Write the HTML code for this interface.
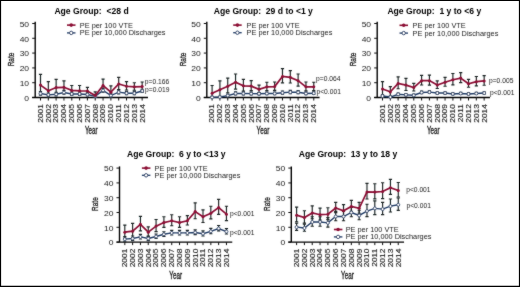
<!DOCTYPE html>
<html><head><meta charset="utf-8"><style>
html,body{margin:0;padding:0;background:#fff;}
body{width:520px;height:287px;overflow:hidden;}
svg{display:block;will-change:transform;}
text{font-family:"Liberation Sans",sans-serif;white-space:pre;}
</style></head><body>
<svg width="520" height="287" viewBox="0 0 520 287">
<defs><filter id="bl" x="-2%" y="-2%" width="104%" height="104%"><feConvolveMatrix order="3" kernelMatrix="0.0225 0.0525 0.0225 0.0525 0.7000 0.0525 0.0225 0.0525 0.0225" edgeMode="duplicate" preserveAlpha="false"/></filter></defs>
<rect x="0" y="0" width="520" height="287" fill="#fff"/>
<g filter="url(#bl)">
<g>
<text x="54.40" y="13.80" font-size="8.6" font-weight="bold" fill="#000">Age Group:  &lt;28 d</text>
<path d="M35.20 21.80V97.50" stroke="#000" stroke-width="1.4" fill="none"/>
<path d="M32.20 97.50H35.20" stroke="#111" stroke-width="1" fill="none"/>
<text transform="translate(29.10,100.70) scale(1.15,1)" font-size="7.4" text-anchor="end" fill="#1a1a1a">0</text>
<path d="M32.20 82.70H35.20" stroke="#111" stroke-width="1" fill="none"/>
<text transform="translate(29.10,85.90) scale(1.15,1)" font-size="7.4" text-anchor="end" fill="#1a1a1a">10</text>
<path d="M32.20 67.90H35.20" stroke="#111" stroke-width="1" fill="none"/>
<text transform="translate(29.10,71.10) scale(1.15,1)" font-size="7.4" text-anchor="end" fill="#1a1a1a">20</text>
<path d="M32.20 53.10H35.20" stroke="#111" stroke-width="1" fill="none"/>
<text transform="translate(29.10,56.30) scale(1.15,1)" font-size="7.4" text-anchor="end" fill="#1a1a1a">30</text>
<path d="M32.20 38.30H35.20" stroke="#111" stroke-width="1" fill="none"/>
<text transform="translate(29.10,41.50) scale(1.15,1)" font-size="7.4" text-anchor="end" fill="#1a1a1a">40</text>
<path d="M32.20 23.50H35.20" stroke="#111" stroke-width="1" fill="none"/>
<text transform="translate(29.10,26.70) scale(1.15,1)" font-size="7.4" text-anchor="end" fill="#1a1a1a">50</text>
<path d="M32.20 97.50H147.96" stroke="#000" stroke-width="1.4" fill="none"/>
<path d="M40.50 97.50V100.50" stroke="#111" stroke-width="1" fill="none"/>
<text transform="translate(42.85,104.10) rotate(-90) scale(1.235,1)" font-size="6.8" text-anchor="end" fill="#1a1a1a" stroke="#1a1a1a" stroke-width="0.12">2001</text>
<path d="M48.32 97.50V100.50" stroke="#111" stroke-width="1" fill="none"/>
<text transform="translate(50.67,104.10) rotate(-90) scale(1.235,1)" font-size="6.8" text-anchor="end" fill="#1a1a1a" stroke="#1a1a1a" stroke-width="0.12">2002</text>
<path d="M56.14 97.50V100.50" stroke="#111" stroke-width="1" fill="none"/>
<text transform="translate(58.49,104.10) rotate(-90) scale(1.235,1)" font-size="6.8" text-anchor="end" fill="#1a1a1a" stroke="#1a1a1a" stroke-width="0.12">2003</text>
<path d="M63.96 97.50V100.50" stroke="#111" stroke-width="1" fill="none"/>
<text transform="translate(66.31,104.10) rotate(-90) scale(1.235,1)" font-size="6.8" text-anchor="end" fill="#1a1a1a" stroke="#1a1a1a" stroke-width="0.12">2004</text>
<path d="M71.78 97.50V100.50" stroke="#111" stroke-width="1" fill="none"/>
<text transform="translate(74.13,104.10) rotate(-90) scale(1.235,1)" font-size="6.8" text-anchor="end" fill="#1a1a1a" stroke="#1a1a1a" stroke-width="0.12">2005</text>
<path d="M79.60 97.50V100.50" stroke="#111" stroke-width="1" fill="none"/>
<text transform="translate(81.95,104.10) rotate(-90) scale(1.235,1)" font-size="6.8" text-anchor="end" fill="#1a1a1a" stroke="#1a1a1a" stroke-width="0.12">2006</text>
<path d="M87.42 97.50V100.50" stroke="#111" stroke-width="1" fill="none"/>
<text transform="translate(89.77,104.10) rotate(-90) scale(1.235,1)" font-size="6.8" text-anchor="end" fill="#1a1a1a" stroke="#1a1a1a" stroke-width="0.12">2007</text>
<path d="M95.24 97.50V100.50" stroke="#111" stroke-width="1" fill="none"/>
<text transform="translate(97.59,104.10) rotate(-90) scale(1.235,1)" font-size="6.8" text-anchor="end" fill="#1a1a1a" stroke="#1a1a1a" stroke-width="0.12">2008</text>
<path d="M103.06 97.50V100.50" stroke="#111" stroke-width="1" fill="none"/>
<text transform="translate(105.41,104.10) rotate(-90) scale(1.235,1)" font-size="6.8" text-anchor="end" fill="#1a1a1a" stroke="#1a1a1a" stroke-width="0.12">2009</text>
<path d="M110.88 97.50V100.50" stroke="#111" stroke-width="1" fill="none"/>
<text transform="translate(113.23,104.10) rotate(-90) scale(1.235,1)" font-size="6.8" text-anchor="end" fill="#1a1a1a" stroke="#1a1a1a" stroke-width="0.12">2010</text>
<path d="M118.70 97.50V100.50" stroke="#111" stroke-width="1" fill="none"/>
<text transform="translate(121.05,104.10) rotate(-90) scale(1.235,1)" font-size="6.8" text-anchor="end" fill="#1a1a1a" stroke="#1a1a1a" stroke-width="0.12">2011</text>
<path d="M126.52 97.50V100.50" stroke="#111" stroke-width="1" fill="none"/>
<text transform="translate(128.87,104.10) rotate(-90) scale(1.235,1)" font-size="6.8" text-anchor="end" fill="#1a1a1a" stroke="#1a1a1a" stroke-width="0.12">2012</text>
<path d="M134.34 97.50V100.50" stroke="#111" stroke-width="1" fill="none"/>
<text transform="translate(136.69,104.10) rotate(-90) scale(1.235,1)" font-size="6.8" text-anchor="end" fill="#1a1a1a" stroke="#1a1a1a" stroke-width="0.12">2013</text>
<path d="M142.16 97.50V100.50" stroke="#111" stroke-width="1" fill="none"/>
<text transform="translate(144.51,104.10) rotate(-90) scale(1.235,1)" font-size="6.8" text-anchor="end" fill="#1a1a1a" stroke="#1a1a1a" stroke-width="0.12">2014</text>
<text transform="translate(91.33,134.30) scale(0.7,1.16)" font-size="9" text-anchor="middle" fill="#1a1a1a" stroke="#1a1a1a" stroke-width="0.3">Year</text>
<text transform="translate(13.90,59.50) rotate(-90) scale(0.75,1)" font-size="8.6" text-anchor="middle" fill="#1a1a1a" stroke="#1a1a1a" stroke-width="0.3">Rate</text>
<path d="M40.50 91.58V95.08M38.90 91.58H42.10M38.90 95.08H42.10" stroke="#1c2626" stroke-width="1.15" fill="none"/>
<path d="M48.32 93.06V96.29M46.72 93.06H49.92M46.72 96.29H49.92" stroke="#1c2626" stroke-width="1.15" fill="none"/>
<path d="M56.14 92.32V95.82M54.54 92.32H57.74M54.54 95.82H57.74" stroke="#1c2626" stroke-width="1.15" fill="none"/>
<path d="M63.96 90.40V94.17M62.36 90.40H65.56M62.36 94.17H65.56" stroke="#1c2626" stroke-width="1.15" fill="none"/>
<path d="M71.78 92.17V95.40M70.18 92.17H73.38M70.18 95.40H73.38" stroke="#1c2626" stroke-width="1.15" fill="none"/>
<path d="M79.60 92.17V95.40M78.00 92.17H81.20M78.00 95.40H81.20" stroke="#1c2626" stroke-width="1.15" fill="none"/>
<path d="M87.42 92.76V96.00M85.82 92.76H89.02M85.82 96.00H89.02" stroke="#1c2626" stroke-width="1.15" fill="none"/>
<path d="M95.24 94.84V97.50M93.64 94.84H96.84M93.64 97.50H96.84" stroke="#1c2626" stroke-width="1.15" fill="none"/>
<path d="M103.06 88.32V92.10M101.46 88.32H104.66M101.46 92.10H104.66" stroke="#1c2626" stroke-width="1.15" fill="none"/>
<path d="M110.88 93.80V97.03M109.28 93.80H112.48M109.28 97.03H112.48" stroke="#1c2626" stroke-width="1.15" fill="none"/>
<path d="M118.70 90.10V93.87M117.10 90.10H120.30M117.10 93.87H120.30" stroke="#1c2626" stroke-width="1.15" fill="none"/>
<path d="M126.52 91.43V94.66M124.92 91.43H128.12M124.92 94.66H128.12" stroke="#1c2626" stroke-width="1.15" fill="none"/>
<path d="M134.34 91.43V94.66M132.74 91.43H135.94M132.74 94.66H135.94" stroke="#1c2626" stroke-width="1.15" fill="none"/>
<path d="M142.16 89.21V92.44M140.56 89.21H143.76M140.56 92.44H143.76" stroke="#1c2626" stroke-width="1.15" fill="none"/>
<path d="M40.50 74.41V93.81M38.90 74.41H42.10M38.90 93.81H42.10" stroke="#1c2626" stroke-width="1.15" fill="none"/>
<path d="M48.32 81.66V97.50M46.72 81.66H49.92M46.72 97.50H49.92" stroke="#1c2626" stroke-width="1.15" fill="none"/>
<path d="M56.14 79.44V94.26M54.54 79.44H57.74M54.54 94.26H57.74" stroke="#1c2626" stroke-width="1.15" fill="none"/>
<path d="M63.96 80.92V92.51M62.36 80.92H65.56M62.36 92.51H65.56" stroke="#1c2626" stroke-width="1.15" fill="none"/>
<path d="M71.78 85.51V94.40M70.18 85.51H73.38M70.18 94.40H73.38" stroke="#1c2626" stroke-width="1.15" fill="none"/>
<path d="M79.60 85.51V95.21M78.00 85.51H81.20M78.00 95.21H81.20" stroke="#1c2626" stroke-width="1.15" fill="none"/>
<path d="M87.42 87.44V93.90M85.82 87.44H89.02M85.82 93.90H89.02" stroke="#1c2626" stroke-width="1.15" fill="none"/>
<path d="M95.24 91.88V97.50M93.64 91.88H96.84M93.64 97.50H96.84" stroke="#1c2626" stroke-width="1.15" fill="none"/>
<path d="M103.06 79.15V90.73M101.46 79.15H104.66M101.46 90.73H104.66" stroke="#1c2626" stroke-width="1.15" fill="none"/>
<path d="M110.88 85.81V97.39M109.28 85.81H112.48M109.28 97.39H112.48" stroke="#1c2626" stroke-width="1.15" fill="none"/>
<path d="M118.70 77.37V89.49M117.10 77.37H120.30M117.10 89.49H120.30" stroke="#1c2626" stroke-width="1.15" fill="none"/>
<path d="M126.52 81.66V90.01M124.92 81.66H128.12M124.92 90.01H128.12" stroke="#1c2626" stroke-width="1.15" fill="none"/>
<path d="M134.34 82.70V90.24M132.74 82.70H135.94M132.74 90.24H135.94" stroke="#1c2626" stroke-width="1.15" fill="none"/>
<path d="M142.16 81.96V90.31M140.56 81.96H143.76M140.56 90.31H143.76" stroke="#1c2626" stroke-width="1.15" fill="none"/>
<polyline points="40.50,93.50 48.32,94.84 56.14,94.24 63.96,92.47 71.78,93.95 79.60,93.95 87.42,94.54 95.24,96.32 103.06,90.40 110.88,95.58 118.70,92.17 126.52,93.21 134.34,93.21 142.16,90.99" stroke="#233c66" stroke-width="1.4" fill="none"/>
<circle cx="40.50" cy="93.50" r="1.5" fill="#fff" stroke="#233c66" stroke-width="0.9"/>
<circle cx="48.32" cy="94.84" r="1.5" fill="#fff" stroke="#233c66" stroke-width="0.9"/>
<circle cx="56.14" cy="94.24" r="1.5" fill="#fff" stroke="#233c66" stroke-width="0.9"/>
<circle cx="63.96" cy="92.47" r="1.5" fill="#fff" stroke="#233c66" stroke-width="0.9"/>
<circle cx="71.78" cy="93.95" r="1.5" fill="#fff" stroke="#233c66" stroke-width="0.9"/>
<circle cx="79.60" cy="93.95" r="1.5" fill="#fff" stroke="#233c66" stroke-width="0.9"/>
<circle cx="87.42" cy="94.54" r="1.5" fill="#fff" stroke="#233c66" stroke-width="0.9"/>
<circle cx="95.24" cy="96.32" r="1.5" fill="#fff" stroke="#233c66" stroke-width="0.9"/>
<circle cx="103.06" cy="90.40" r="1.5" fill="#fff" stroke="#233c66" stroke-width="0.9"/>
<circle cx="110.88" cy="95.58" r="1.5" fill="#fff" stroke="#233c66" stroke-width="0.9"/>
<circle cx="118.70" cy="92.17" r="1.5" fill="#fff" stroke="#233c66" stroke-width="0.9"/>
<circle cx="126.52" cy="93.21" r="1.5" fill="#fff" stroke="#233c66" stroke-width="0.9"/>
<circle cx="134.34" cy="93.21" r="1.5" fill="#fff" stroke="#233c66" stroke-width="0.9"/>
<circle cx="142.16" cy="90.99" r="1.5" fill="#fff" stroke="#233c66" stroke-width="0.9"/>
<polyline points="40.50,85.07 48.32,90.69 56.14,87.58 63.96,87.29 71.78,90.40 79.60,90.84 87.42,90.99 95.24,95.58 103.06,85.51 110.88,92.17 118.70,84.03 126.52,86.25 134.34,86.84 142.16,86.55" stroke="#8c1035" stroke-width="1.7" fill="none"/>
<circle cx="40.50" cy="85.07" r="1.5" fill="#8c1035"/>
<circle cx="48.32" cy="90.69" r="1.5" fill="#8c1035"/>
<circle cx="56.14" cy="87.58" r="1.5" fill="#8c1035"/>
<circle cx="63.96" cy="87.29" r="1.5" fill="#8c1035"/>
<circle cx="71.78" cy="90.40" r="1.5" fill="#8c1035"/>
<circle cx="79.60" cy="90.84" r="1.5" fill="#8c1035"/>
<circle cx="87.42" cy="90.99" r="1.5" fill="#8c1035"/>
<circle cx="95.24" cy="95.58" r="1.5" fill="#8c1035"/>
<circle cx="103.06" cy="85.51" r="1.5" fill="#8c1035"/>
<circle cx="110.88" cy="92.17" r="1.5" fill="#8c1035"/>
<circle cx="118.70" cy="84.03" r="1.5" fill="#8c1035"/>
<circle cx="126.52" cy="86.25" r="1.5" fill="#8c1035"/>
<circle cx="134.34" cy="86.84" r="1.5" fill="#8c1035"/>
<circle cx="142.16" cy="86.55" r="1.5" fill="#8c1035"/>
<path d="M67.00 25.10H75.50" stroke="#8c1035" stroke-width="1.6"/>
<circle cx="71.20" cy="25.10" r="1.8" fill="#8c1035"/>
<text x="79.80" y="27.60" font-size="7.35" fill="#1a1a1a">PE per 100 VTE</text>
<path d="M67.00 32.90H75.50" stroke="#233c66" stroke-width="1.3"/>
<circle cx="71.20" cy="32.90" r="1.7" fill="#fff" stroke="#233c66" stroke-width="1"/>
<text x="79.80" y="35.40" font-size="7.35" fill="#1a1a1a">PE per 10,000 Discharges</text>
<text x="144.80" y="84.10" font-size="6.7" fill="#1a1a1a">p=0.166</text>
<text x="145.10" y="92.20" font-size="6.7" fill="#1a1a1a">p=0.019</text>
</g>
<g>
<text x="213.80" y="13.90" font-size="8.6" font-weight="bold" fill="#000">Age Group:  29 d to &lt;1 y</text>
<path d="M206.80 21.80V97.50" stroke="#000" stroke-width="1.4" fill="none"/>
<path d="M203.80 97.50H206.80" stroke="#111" stroke-width="1" fill="none"/>
<text transform="translate(200.70,100.70) scale(1.15,1)" font-size="7.4" text-anchor="end" fill="#1a1a1a">0</text>
<path d="M203.80 82.70H206.80" stroke="#111" stroke-width="1" fill="none"/>
<text transform="translate(200.70,85.90) scale(1.15,1)" font-size="7.4" text-anchor="end" fill="#1a1a1a">10</text>
<path d="M203.80 67.90H206.80" stroke="#111" stroke-width="1" fill="none"/>
<text transform="translate(200.70,71.10) scale(1.15,1)" font-size="7.4" text-anchor="end" fill="#1a1a1a">20</text>
<path d="M203.80 53.10H206.80" stroke="#111" stroke-width="1" fill="none"/>
<text transform="translate(200.70,56.30) scale(1.15,1)" font-size="7.4" text-anchor="end" fill="#1a1a1a">30</text>
<path d="M203.80 38.30H206.80" stroke="#111" stroke-width="1" fill="none"/>
<text transform="translate(200.70,41.50) scale(1.15,1)" font-size="7.4" text-anchor="end" fill="#1a1a1a">40</text>
<path d="M203.80 23.50H206.80" stroke="#111" stroke-width="1" fill="none"/>
<text transform="translate(200.70,26.70) scale(1.15,1)" font-size="7.4" text-anchor="end" fill="#1a1a1a">50</text>
<path d="M203.80 97.50H319.56" stroke="#000" stroke-width="1.4" fill="none"/>
<path d="M212.10 97.50V100.50" stroke="#111" stroke-width="1" fill="none"/>
<text transform="translate(214.45,104.10) rotate(-90) scale(1.235,1)" font-size="6.8" text-anchor="end" fill="#1a1a1a" stroke="#1a1a1a" stroke-width="0.12">2001</text>
<path d="M219.92 97.50V100.50" stroke="#111" stroke-width="1" fill="none"/>
<text transform="translate(222.27,104.10) rotate(-90) scale(1.235,1)" font-size="6.8" text-anchor="end" fill="#1a1a1a" stroke="#1a1a1a" stroke-width="0.12">2002</text>
<path d="M227.74 97.50V100.50" stroke="#111" stroke-width="1" fill="none"/>
<text transform="translate(230.09,104.10) rotate(-90) scale(1.235,1)" font-size="6.8" text-anchor="end" fill="#1a1a1a" stroke="#1a1a1a" stroke-width="0.12">2003</text>
<path d="M235.56 97.50V100.50" stroke="#111" stroke-width="1" fill="none"/>
<text transform="translate(237.91,104.10) rotate(-90) scale(1.235,1)" font-size="6.8" text-anchor="end" fill="#1a1a1a" stroke="#1a1a1a" stroke-width="0.12">2004</text>
<path d="M243.38 97.50V100.50" stroke="#111" stroke-width="1" fill="none"/>
<text transform="translate(245.73,104.10) rotate(-90) scale(1.235,1)" font-size="6.8" text-anchor="end" fill="#1a1a1a" stroke="#1a1a1a" stroke-width="0.12">2005</text>
<path d="M251.20 97.50V100.50" stroke="#111" stroke-width="1" fill="none"/>
<text transform="translate(253.55,104.10) rotate(-90) scale(1.235,1)" font-size="6.8" text-anchor="end" fill="#1a1a1a" stroke="#1a1a1a" stroke-width="0.12">2006</text>
<path d="M259.02 97.50V100.50" stroke="#111" stroke-width="1" fill="none"/>
<text transform="translate(261.37,104.10) rotate(-90) scale(1.235,1)" font-size="6.8" text-anchor="end" fill="#1a1a1a" stroke="#1a1a1a" stroke-width="0.12">2007</text>
<path d="M266.84 97.50V100.50" stroke="#111" stroke-width="1" fill="none"/>
<text transform="translate(269.19,104.10) rotate(-90) scale(1.235,1)" font-size="6.8" text-anchor="end" fill="#1a1a1a" stroke="#1a1a1a" stroke-width="0.12">2008</text>
<path d="M274.66 97.50V100.50" stroke="#111" stroke-width="1" fill="none"/>
<text transform="translate(277.01,104.10) rotate(-90) scale(1.235,1)" font-size="6.8" text-anchor="end" fill="#1a1a1a" stroke="#1a1a1a" stroke-width="0.12">2009</text>
<path d="M282.48 97.50V100.50" stroke="#111" stroke-width="1" fill="none"/>
<text transform="translate(284.83,104.10) rotate(-90) scale(1.235,1)" font-size="6.8" text-anchor="end" fill="#1a1a1a" stroke="#1a1a1a" stroke-width="0.12">2010</text>
<path d="M290.30 97.50V100.50" stroke="#111" stroke-width="1" fill="none"/>
<text transform="translate(292.65,104.10) rotate(-90) scale(1.235,1)" font-size="6.8" text-anchor="end" fill="#1a1a1a" stroke="#1a1a1a" stroke-width="0.12">2011</text>
<path d="M298.12 97.50V100.50" stroke="#111" stroke-width="1" fill="none"/>
<text transform="translate(300.47,104.10) rotate(-90) scale(1.235,1)" font-size="6.8" text-anchor="end" fill="#1a1a1a" stroke="#1a1a1a" stroke-width="0.12">2012</text>
<path d="M305.94 97.50V100.50" stroke="#111" stroke-width="1" fill="none"/>
<text transform="translate(308.29,104.10) rotate(-90) scale(1.235,1)" font-size="6.8" text-anchor="end" fill="#1a1a1a" stroke="#1a1a1a" stroke-width="0.12">2013</text>
<path d="M313.76 97.50V100.50" stroke="#111" stroke-width="1" fill="none"/>
<text transform="translate(316.11,104.10) rotate(-90) scale(1.235,1)" font-size="6.8" text-anchor="end" fill="#1a1a1a" stroke="#1a1a1a" stroke-width="0.12">2014</text>
<text transform="translate(262.93,134.30) scale(0.7,1.16)" font-size="9" text-anchor="middle" fill="#1a1a1a" stroke="#1a1a1a" stroke-width="0.3">Year</text>
<text transform="translate(185.50,59.50) rotate(-90) scale(0.75,1)" font-size="8.6" text-anchor="middle" fill="#1a1a1a" stroke="#1a1a1a" stroke-width="0.3">Rate</text>
<path d="M212.10 96.32V97.50M210.50 96.32H213.70M210.50 97.50H213.70" stroke="#1c2626" stroke-width="1.15" fill="none"/>
<path d="M219.92 96.02V97.50M218.32 96.02H221.52M218.32 97.50H221.52" stroke="#1c2626" stroke-width="1.15" fill="none"/>
<path d="M227.74 94.24V96.67M226.14 94.24H229.34M226.14 96.67H229.34" stroke="#1c2626" stroke-width="1.15" fill="none"/>
<path d="M235.56 91.88V94.84M233.96 91.88H237.16M233.96 94.84H237.16" stroke="#1c2626" stroke-width="1.15" fill="none"/>
<path d="M243.38 91.88V94.84M241.78 91.88H244.98M241.78 94.84H244.98" stroke="#1c2626" stroke-width="1.15" fill="none"/>
<path d="M251.20 92.17V94.87M249.60 92.17H252.80M249.60 94.87H252.80" stroke="#1c2626" stroke-width="1.15" fill="none"/>
<path d="M259.02 92.47V94.89M257.42 92.47H260.62M257.42 94.89H260.62" stroke="#1c2626" stroke-width="1.15" fill="none"/>
<path d="M266.84 92.02V94.72M265.24 92.02H268.44M265.24 94.72H268.44" stroke="#1c2626" stroke-width="1.15" fill="none"/>
<path d="M274.66 92.02V94.72M273.06 92.02H276.26M273.06 94.72H276.26" stroke="#1c2626" stroke-width="1.15" fill="none"/>
<path d="M282.48 90.99V94.22M280.88 90.99H284.08M280.88 94.22H284.08" stroke="#1c2626" stroke-width="1.15" fill="none"/>
<path d="M290.30 90.40V93.63M288.70 90.40H291.90M288.70 93.63H291.90" stroke="#1c2626" stroke-width="1.15" fill="none"/>
<path d="M298.12 90.69V93.65M296.52 90.69H299.72M296.52 93.65H299.72" stroke="#1c2626" stroke-width="1.15" fill="none"/>
<path d="M305.94 92.02V94.72M304.34 92.02H307.54M304.34 94.72H307.54" stroke="#1c2626" stroke-width="1.15" fill="none"/>
<path d="M313.76 91.73V94.42M312.16 91.73H315.36M312.16 94.42H315.36" stroke="#1c2626" stroke-width="1.15" fill="none"/>
<path d="M212.10 85.51V97.50M210.50 85.51H213.70M210.50 97.50H213.70" stroke="#1c2626" stroke-width="1.15" fill="none"/>
<path d="M219.92 80.92V96.82M218.32 80.92H221.52M218.32 96.82H221.52" stroke="#1c2626" stroke-width="1.15" fill="none"/>
<path d="M227.74 78.11V92.93M226.14 78.11H229.34M226.14 92.93H229.34" stroke="#1c2626" stroke-width="1.15" fill="none"/>
<path d="M235.56 73.97V89.05M233.96 73.97H237.16M233.96 89.05H237.16" stroke="#1c2626" stroke-width="1.15" fill="none"/>
<path d="M243.38 79.44V91.03M241.78 79.44H244.98M241.78 91.03H244.98" stroke="#1c2626" stroke-width="1.15" fill="none"/>
<path d="M251.20 80.63V90.59M249.60 80.63H252.80M249.60 90.59H252.80" stroke="#1c2626" stroke-width="1.15" fill="none"/>
<path d="M259.02 85.07V92.88M257.42 85.07H260.62M257.42 92.88H260.62" stroke="#1c2626" stroke-width="1.15" fill="none"/>
<path d="M266.84 82.26V90.61M265.24 82.26H268.44M265.24 90.61H268.44" stroke="#1c2626" stroke-width="1.15" fill="none"/>
<path d="M274.66 81.96V90.31M273.06 81.96H276.26M273.06 90.31H276.26" stroke="#1c2626" stroke-width="1.15" fill="none"/>
<path d="M282.48 68.64V82.92M280.88 68.64H284.08M280.88 82.92H284.08" stroke="#1c2626" stroke-width="1.15" fill="none"/>
<path d="M290.30 70.56V82.95M288.70 70.56H291.90M288.70 82.95H291.90" stroke="#1c2626" stroke-width="1.15" fill="none"/>
<path d="M298.12 73.97V86.09M296.52 73.97H299.72M296.52 86.09H299.72" stroke="#1c2626" stroke-width="1.15" fill="none"/>
<path d="M305.94 81.96V90.85M304.34 81.96H307.54M304.34 90.85H307.54" stroke="#1c2626" stroke-width="1.15" fill="none"/>
<path d="M313.76 82.26V90.61M312.16 82.26H315.36M312.16 90.61H315.36" stroke="#1c2626" stroke-width="1.15" fill="none"/>
<polyline points="212.10,97.35 219.92,97.06 227.74,95.58 235.56,93.50 243.38,93.50 251.20,93.65 259.02,93.80 266.84,93.50 274.66,93.50 282.48,92.76 290.30,92.17 298.12,92.32 305.94,93.50 313.76,93.21" stroke="#233c66" stroke-width="1.4" fill="none"/>
<circle cx="212.10" cy="97.35" r="1.5" fill="#fff" stroke="#233c66" stroke-width="0.9"/>
<circle cx="219.92" cy="97.06" r="1.5" fill="#fff" stroke="#233c66" stroke-width="0.9"/>
<circle cx="227.74" cy="95.58" r="1.5" fill="#fff" stroke="#233c66" stroke-width="0.9"/>
<circle cx="235.56" cy="93.50" r="1.5" fill="#fff" stroke="#233c66" stroke-width="0.9"/>
<circle cx="243.38" cy="93.50" r="1.5" fill="#fff" stroke="#233c66" stroke-width="0.9"/>
<circle cx="251.20" cy="93.65" r="1.5" fill="#fff" stroke="#233c66" stroke-width="0.9"/>
<circle cx="259.02" cy="93.80" r="1.5" fill="#fff" stroke="#233c66" stroke-width="0.9"/>
<circle cx="266.84" cy="93.50" r="1.5" fill="#fff" stroke="#233c66" stroke-width="0.9"/>
<circle cx="274.66" cy="93.50" r="1.5" fill="#fff" stroke="#233c66" stroke-width="0.9"/>
<circle cx="282.48" cy="92.76" r="1.5" fill="#fff" stroke="#233c66" stroke-width="0.9"/>
<circle cx="290.30" cy="92.17" r="1.5" fill="#fff" stroke="#233c66" stroke-width="0.9"/>
<circle cx="298.12" cy="92.32" r="1.5" fill="#fff" stroke="#233c66" stroke-width="0.9"/>
<circle cx="305.94" cy="93.50" r="1.5" fill="#fff" stroke="#233c66" stroke-width="0.9"/>
<circle cx="313.76" cy="93.21" r="1.5" fill="#fff" stroke="#233c66" stroke-width="0.9"/>
<polyline points="212.10,93.21 219.92,89.66 227.74,86.25 235.56,82.26 243.38,85.81 251.20,86.10 259.02,89.36 266.84,86.84 274.66,86.55 282.48,76.48 290.30,77.37 298.12,80.63 305.94,86.84 313.76,86.84" stroke="#8c1035" stroke-width="1.7" fill="none"/>
<circle cx="212.10" cy="93.21" r="1.5" fill="#8c1035"/>
<circle cx="219.92" cy="89.66" r="1.5" fill="#8c1035"/>
<circle cx="227.74" cy="86.25" r="1.5" fill="#8c1035"/>
<circle cx="235.56" cy="82.26" r="1.5" fill="#8c1035"/>
<circle cx="243.38" cy="85.81" r="1.5" fill="#8c1035"/>
<circle cx="251.20" cy="86.10" r="1.5" fill="#8c1035"/>
<circle cx="259.02" cy="89.36" r="1.5" fill="#8c1035"/>
<circle cx="266.84" cy="86.84" r="1.5" fill="#8c1035"/>
<circle cx="274.66" cy="86.55" r="1.5" fill="#8c1035"/>
<circle cx="282.48" cy="76.48" r="1.5" fill="#8c1035"/>
<circle cx="290.30" cy="77.37" r="1.5" fill="#8c1035"/>
<circle cx="298.12" cy="80.63" r="1.5" fill="#8c1035"/>
<circle cx="305.94" cy="86.84" r="1.5" fill="#8c1035"/>
<circle cx="313.76" cy="86.84" r="1.5" fill="#8c1035"/>
<path d="M233.20 25.10H241.70" stroke="#8c1035" stroke-width="1.6"/>
<circle cx="237.40" cy="25.10" r="1.8" fill="#8c1035"/>
<text x="246.60" y="27.60" font-size="7.35" fill="#1a1a1a">PE per 100 VTE</text>
<path d="M233.20 32.70H241.70" stroke="#233c66" stroke-width="1.3"/>
<circle cx="237.40" cy="32.70" r="1.7" fill="#fff" stroke="#233c66" stroke-width="1"/>
<text x="246.60" y="35.20" font-size="7.35" fill="#1a1a1a">PE per 10,000 Discharges</text>
<text x="316.10" y="80.60" font-size="6.7" fill="#1a1a1a">p=0.064</text>
<text x="316.50" y="93.60" font-size="6.7" fill="#1a1a1a">p&lt;0.001</text>
</g>
<g>
<text x="387.40" y="13.70" font-size="8.6" font-weight="bold" fill="#000">Age Group:  1 y to &lt;6 y</text>
<path d="M377.20 21.80V97.50" stroke="#000" stroke-width="1.4" fill="none"/>
<path d="M374.20 97.50H377.20" stroke="#111" stroke-width="1" fill="none"/>
<text transform="translate(371.10,100.70) scale(1.15,1)" font-size="7.4" text-anchor="end" fill="#1a1a1a">0</text>
<path d="M374.20 82.70H377.20" stroke="#111" stroke-width="1" fill="none"/>
<text transform="translate(371.10,85.90) scale(1.15,1)" font-size="7.4" text-anchor="end" fill="#1a1a1a">10</text>
<path d="M374.20 67.90H377.20" stroke="#111" stroke-width="1" fill="none"/>
<text transform="translate(371.10,71.10) scale(1.15,1)" font-size="7.4" text-anchor="end" fill="#1a1a1a">20</text>
<path d="M374.20 53.10H377.20" stroke="#111" stroke-width="1" fill="none"/>
<text transform="translate(371.10,56.30) scale(1.15,1)" font-size="7.4" text-anchor="end" fill="#1a1a1a">30</text>
<path d="M374.20 38.30H377.20" stroke="#111" stroke-width="1" fill="none"/>
<text transform="translate(371.10,41.50) scale(1.15,1)" font-size="7.4" text-anchor="end" fill="#1a1a1a">40</text>
<path d="M374.20 23.50H377.20" stroke="#111" stroke-width="1" fill="none"/>
<text transform="translate(371.10,26.70) scale(1.15,1)" font-size="7.4" text-anchor="end" fill="#1a1a1a">50</text>
<path d="M374.20 97.50H489.96" stroke="#000" stroke-width="1.4" fill="none"/>
<path d="M382.50 97.50V100.50" stroke="#111" stroke-width="1" fill="none"/>
<text transform="translate(384.85,104.10) rotate(-90) scale(1.235,1)" font-size="6.8" text-anchor="end" fill="#1a1a1a" stroke="#1a1a1a" stroke-width="0.12">2001</text>
<path d="M390.32 97.50V100.50" stroke="#111" stroke-width="1" fill="none"/>
<text transform="translate(392.67,104.10) rotate(-90) scale(1.235,1)" font-size="6.8" text-anchor="end" fill="#1a1a1a" stroke="#1a1a1a" stroke-width="0.12">2002</text>
<path d="M398.14 97.50V100.50" stroke="#111" stroke-width="1" fill="none"/>
<text transform="translate(400.49,104.10) rotate(-90) scale(1.235,1)" font-size="6.8" text-anchor="end" fill="#1a1a1a" stroke="#1a1a1a" stroke-width="0.12">2003</text>
<path d="M405.96 97.50V100.50" stroke="#111" stroke-width="1" fill="none"/>
<text transform="translate(408.31,104.10) rotate(-90) scale(1.235,1)" font-size="6.8" text-anchor="end" fill="#1a1a1a" stroke="#1a1a1a" stroke-width="0.12">2004</text>
<path d="M413.78 97.50V100.50" stroke="#111" stroke-width="1" fill="none"/>
<text transform="translate(416.13,104.10) rotate(-90) scale(1.235,1)" font-size="6.8" text-anchor="end" fill="#1a1a1a" stroke="#1a1a1a" stroke-width="0.12">2005</text>
<path d="M421.60 97.50V100.50" stroke="#111" stroke-width="1" fill="none"/>
<text transform="translate(423.95,104.10) rotate(-90) scale(1.235,1)" font-size="6.8" text-anchor="end" fill="#1a1a1a" stroke="#1a1a1a" stroke-width="0.12">2006</text>
<path d="M429.42 97.50V100.50" stroke="#111" stroke-width="1" fill="none"/>
<text transform="translate(431.77,104.10) rotate(-90) scale(1.235,1)" font-size="6.8" text-anchor="end" fill="#1a1a1a" stroke="#1a1a1a" stroke-width="0.12">2007</text>
<path d="M437.24 97.50V100.50" stroke="#111" stroke-width="1" fill="none"/>
<text transform="translate(439.59,104.10) rotate(-90) scale(1.235,1)" font-size="6.8" text-anchor="end" fill="#1a1a1a" stroke="#1a1a1a" stroke-width="0.12">2008</text>
<path d="M445.06 97.50V100.50" stroke="#111" stroke-width="1" fill="none"/>
<text transform="translate(447.41,104.10) rotate(-90) scale(1.235,1)" font-size="6.8" text-anchor="end" fill="#1a1a1a" stroke="#1a1a1a" stroke-width="0.12">2009</text>
<path d="M452.88 97.50V100.50" stroke="#111" stroke-width="1" fill="none"/>
<text transform="translate(455.23,104.10) rotate(-90) scale(1.235,1)" font-size="6.8" text-anchor="end" fill="#1a1a1a" stroke="#1a1a1a" stroke-width="0.12">2010</text>
<path d="M460.70 97.50V100.50" stroke="#111" stroke-width="1" fill="none"/>
<text transform="translate(463.05,104.10) rotate(-90) scale(1.235,1)" font-size="6.8" text-anchor="end" fill="#1a1a1a" stroke="#1a1a1a" stroke-width="0.12">2011</text>
<path d="M468.52 97.50V100.50" stroke="#111" stroke-width="1" fill="none"/>
<text transform="translate(470.87,104.10) rotate(-90) scale(1.235,1)" font-size="6.8" text-anchor="end" fill="#1a1a1a" stroke="#1a1a1a" stroke-width="0.12">2012</text>
<path d="M476.34 97.50V100.50" stroke="#111" stroke-width="1" fill="none"/>
<text transform="translate(478.69,104.10) rotate(-90) scale(1.235,1)" font-size="6.8" text-anchor="end" fill="#1a1a1a" stroke="#1a1a1a" stroke-width="0.12">2013</text>
<path d="M484.16 97.50V100.50" stroke="#111" stroke-width="1" fill="none"/>
<text transform="translate(486.51,104.10) rotate(-90) scale(1.235,1)" font-size="6.8" text-anchor="end" fill="#1a1a1a" stroke="#1a1a1a" stroke-width="0.12">2014</text>
<text transform="translate(433.33,134.30) scale(0.7,1.16)" font-size="9" text-anchor="middle" fill="#1a1a1a" stroke="#1a1a1a" stroke-width="0.3">Year</text>
<text transform="translate(355.90,59.50) rotate(-90) scale(0.75,1)" font-size="8.6" text-anchor="middle" fill="#1a1a1a" stroke="#1a1a1a" stroke-width="0.3">Rate</text>
<path d="M382.50 94.84V96.99M380.90 94.84H384.10M380.90 96.99H384.10" stroke="#1c2626" stroke-width="1.15" fill="none"/>
<path d="M390.32 96.02V97.50M388.72 96.02H391.92M388.72 97.50H391.92" stroke="#1c2626" stroke-width="1.15" fill="none"/>
<path d="M398.14 93.06V95.21M396.54 93.06H399.74M396.54 95.21H399.74" stroke="#1c2626" stroke-width="1.15" fill="none"/>
<path d="M405.96 93.65V95.81M404.36 93.65H407.56M404.36 95.81H407.56" stroke="#1c2626" stroke-width="1.15" fill="none"/>
<path d="M413.78 94.10V96.25M412.18 94.10H415.38M412.18 96.25H415.38" stroke="#1c2626" stroke-width="1.15" fill="none"/>
<path d="M421.60 91.14V93.56M420.00 91.14H423.20M420.00 93.56H423.20" stroke="#1c2626" stroke-width="1.15" fill="none"/>
<path d="M429.42 90.84V93.26M427.82 90.84H431.02M427.82 93.26H431.02" stroke="#1c2626" stroke-width="1.15" fill="none"/>
<path d="M437.24 91.73V94.15M435.64 91.73H438.84M435.64 94.15H438.84" stroke="#1c2626" stroke-width="1.15" fill="none"/>
<path d="M445.06 91.73V94.15M443.46 91.73H446.66M443.46 94.15H446.66" stroke="#1c2626" stroke-width="1.15" fill="none"/>
<path d="M452.88 92.76V94.92M451.28 92.76H454.48M451.28 94.92H454.48" stroke="#1c2626" stroke-width="1.15" fill="none"/>
<path d="M460.70 92.32V94.47M459.10 92.32H462.30M459.10 94.47H462.30" stroke="#1c2626" stroke-width="1.15" fill="none"/>
<path d="M468.52 92.76V94.92M466.92 92.76H470.12M466.92 94.92H470.12" stroke="#1c2626" stroke-width="1.15" fill="none"/>
<path d="M476.34 92.32V94.47M474.74 92.32H477.94M474.74 94.47H477.94" stroke="#1c2626" stroke-width="1.15" fill="none"/>
<path d="M484.16 91.73V94.15M482.56 91.73H485.76M482.56 94.15H485.76" stroke="#1c2626" stroke-width="1.15" fill="none"/>
<path d="M382.50 81.66V95.13M380.90 81.66H384.10M380.90 95.13H384.10" stroke="#1c2626" stroke-width="1.15" fill="none"/>
<path d="M390.32 86.55V96.24M388.72 86.55H391.92M388.72 96.24H391.92" stroke="#1c2626" stroke-width="1.15" fill="none"/>
<path d="M398.14 76.93V88.78M396.54 76.93H399.74M396.54 88.78H399.74" stroke="#1c2626" stroke-width="1.15" fill="none"/>
<path d="M405.96 78.41V90.53M404.36 78.41H407.56M404.36 90.53H407.56" stroke="#1c2626" stroke-width="1.15" fill="none"/>
<path d="M413.78 83.44V90.98M412.18 83.44H415.38M412.18 90.98H415.38" stroke="#1c2626" stroke-width="1.15" fill="none"/>
<path d="M421.60 75.30V85.00M420.00 75.30H423.20M420.00 85.00H423.20" stroke="#1c2626" stroke-width="1.15" fill="none"/>
<path d="M429.42 75.15V85.12M427.82 75.15H431.02M427.82 85.12H431.02" stroke="#1c2626" stroke-width="1.15" fill="none"/>
<path d="M437.24 80.92V88.47M435.64 80.92H438.84M435.64 88.47H438.84" stroke="#1c2626" stroke-width="1.15" fill="none"/>
<path d="M445.06 77.37V86.26M443.46 77.37H446.66M443.46 86.26H446.66" stroke="#1c2626" stroke-width="1.15" fill="none"/>
<path d="M452.88 73.52V84.84M451.28 73.52H454.48M451.28 84.84H454.48" stroke="#1c2626" stroke-width="1.15" fill="none"/>
<path d="M460.70 72.64V82.60M459.10 72.64H462.30M459.10 82.60H462.30" stroke="#1c2626" stroke-width="1.15" fill="none"/>
<path d="M468.52 79.44V87.26M466.92 79.44H470.12M466.92 87.26H470.12" stroke="#1c2626" stroke-width="1.15" fill="none"/>
<path d="M476.34 76.48V85.91M474.74 76.48H477.94M474.74 85.91H477.94" stroke="#1c2626" stroke-width="1.15" fill="none"/>
<path d="M484.16 75.60V85.29M482.56 75.60H485.76M482.56 85.29H485.76" stroke="#1c2626" stroke-width="1.15" fill="none"/>
<polyline points="382.50,96.02 390.32,97.06 398.14,94.24 405.96,94.84 413.78,95.28 421.60,92.47 429.42,92.17 437.24,93.06 445.06,93.06 452.88,93.95 460.70,93.50 468.52,93.95 476.34,93.50 484.16,93.06" stroke="#233c66" stroke-width="1.4" fill="none"/>
<circle cx="382.50" cy="96.02" r="1.5" fill="#fff" stroke="#233c66" stroke-width="0.9"/>
<circle cx="390.32" cy="97.06" r="1.5" fill="#fff" stroke="#233c66" stroke-width="0.9"/>
<circle cx="398.14" cy="94.24" r="1.5" fill="#fff" stroke="#233c66" stroke-width="0.9"/>
<circle cx="405.96" cy="94.84" r="1.5" fill="#fff" stroke="#233c66" stroke-width="0.9"/>
<circle cx="413.78" cy="95.28" r="1.5" fill="#fff" stroke="#233c66" stroke-width="0.9"/>
<circle cx="421.60" cy="92.47" r="1.5" fill="#fff" stroke="#233c66" stroke-width="0.9"/>
<circle cx="429.42" cy="92.17" r="1.5" fill="#fff" stroke="#233c66" stroke-width="0.9"/>
<circle cx="437.24" cy="93.06" r="1.5" fill="#fff" stroke="#233c66" stroke-width="0.9"/>
<circle cx="445.06" cy="93.06" r="1.5" fill="#fff" stroke="#233c66" stroke-width="0.9"/>
<circle cx="452.88" cy="93.95" r="1.5" fill="#fff" stroke="#233c66" stroke-width="0.9"/>
<circle cx="460.70" cy="93.50" r="1.5" fill="#fff" stroke="#233c66" stroke-width="0.9"/>
<circle cx="468.52" cy="93.95" r="1.5" fill="#fff" stroke="#233c66" stroke-width="0.9"/>
<circle cx="476.34" cy="93.50" r="1.5" fill="#fff" stroke="#233c66" stroke-width="0.9"/>
<circle cx="484.16" cy="93.06" r="1.5" fill="#fff" stroke="#233c66" stroke-width="0.9"/>
<polyline points="382.50,89.06 390.32,91.88 398.14,83.44 405.96,85.07 413.78,87.58 421.60,80.63 429.42,80.63 437.24,85.07 445.06,82.26 452.88,79.74 460.70,78.11 468.52,83.74 476.34,81.66 484.16,80.92" stroke="#8c1035" stroke-width="1.7" fill="none"/>
<circle cx="382.50" cy="89.06" r="1.5" fill="#8c1035"/>
<circle cx="390.32" cy="91.88" r="1.5" fill="#8c1035"/>
<circle cx="398.14" cy="83.44" r="1.5" fill="#8c1035"/>
<circle cx="405.96" cy="85.07" r="1.5" fill="#8c1035"/>
<circle cx="413.78" cy="87.58" r="1.5" fill="#8c1035"/>
<circle cx="421.60" cy="80.63" r="1.5" fill="#8c1035"/>
<circle cx="429.42" cy="80.63" r="1.5" fill="#8c1035"/>
<circle cx="437.24" cy="85.07" r="1.5" fill="#8c1035"/>
<circle cx="445.06" cy="82.26" r="1.5" fill="#8c1035"/>
<circle cx="452.88" cy="79.74" r="1.5" fill="#8c1035"/>
<circle cx="460.70" cy="78.11" r="1.5" fill="#8c1035"/>
<circle cx="468.52" cy="83.74" r="1.5" fill="#8c1035"/>
<circle cx="476.34" cy="81.66" r="1.5" fill="#8c1035"/>
<circle cx="484.16" cy="80.92" r="1.5" fill="#8c1035"/>
<path d="M399.50 25.30H408.00" stroke="#8c1035" stroke-width="1.6"/>
<circle cx="403.70" cy="25.30" r="1.8" fill="#8c1035"/>
<text x="412.60" y="27.80" font-size="7.35" fill="#1a1a1a">PE per 100 VTE</text>
<path d="M399.50 33.10H408.00" stroke="#233c66" stroke-width="1.3"/>
<circle cx="403.70" cy="33.10" r="1.7" fill="#fff" stroke="#233c66" stroke-width="1"/>
<text x="412.60" y="35.60" font-size="7.35" fill="#1a1a1a">PE per 10,000 Discharges</text>
<text x="489.00" y="82.70" font-size="6.7" fill="#1a1a1a">p=0.005</text>
<text x="490.00" y="94.60" font-size="6.7" fill="#1a1a1a">p&lt;0.001</text>
</g>
<g>
<text x="127.00" y="156.80" font-size="8.6" font-weight="bold" fill="#000">Age Group:  6 y to &lt;13 y</text>
<path d="M119.50 166.40V242.10" stroke="#000" stroke-width="1.4" fill="none"/>
<path d="M116.50 242.10H119.50" stroke="#111" stroke-width="1" fill="none"/>
<text transform="translate(113.40,245.30) scale(1.15,1)" font-size="7.4" text-anchor="end" fill="#1a1a1a">0</text>
<path d="M116.50 227.30H119.50" stroke="#111" stroke-width="1" fill="none"/>
<text transform="translate(113.40,230.50) scale(1.15,1)" font-size="7.4" text-anchor="end" fill="#1a1a1a">10</text>
<path d="M116.50 212.50H119.50" stroke="#111" stroke-width="1" fill="none"/>
<text transform="translate(113.40,215.70) scale(1.15,1)" font-size="7.4" text-anchor="end" fill="#1a1a1a">20</text>
<path d="M116.50 197.70H119.50" stroke="#111" stroke-width="1" fill="none"/>
<text transform="translate(113.40,200.90) scale(1.15,1)" font-size="7.4" text-anchor="end" fill="#1a1a1a">30</text>
<path d="M116.50 182.90H119.50" stroke="#111" stroke-width="1" fill="none"/>
<text transform="translate(113.40,186.10) scale(1.15,1)" font-size="7.4" text-anchor="end" fill="#1a1a1a">40</text>
<path d="M116.50 168.10H119.50" stroke="#111" stroke-width="1" fill="none"/>
<text transform="translate(113.40,171.30) scale(1.15,1)" font-size="7.4" text-anchor="end" fill="#1a1a1a">50</text>
<path d="M116.50 242.10H232.26" stroke="#000" stroke-width="1.4" fill="none"/>
<path d="M124.80 242.10V245.10" stroke="#111" stroke-width="1" fill="none"/>
<text transform="translate(127.15,248.70) rotate(-90) scale(1.235,1)" font-size="6.8" text-anchor="end" fill="#1a1a1a" stroke="#1a1a1a" stroke-width="0.12">2001</text>
<path d="M132.62 242.10V245.10" stroke="#111" stroke-width="1" fill="none"/>
<text transform="translate(134.97,248.70) rotate(-90) scale(1.235,1)" font-size="6.8" text-anchor="end" fill="#1a1a1a" stroke="#1a1a1a" stroke-width="0.12">2002</text>
<path d="M140.44 242.10V245.10" stroke="#111" stroke-width="1" fill="none"/>
<text transform="translate(142.79,248.70) rotate(-90) scale(1.235,1)" font-size="6.8" text-anchor="end" fill="#1a1a1a" stroke="#1a1a1a" stroke-width="0.12">2003</text>
<path d="M148.26 242.10V245.10" stroke="#111" stroke-width="1" fill="none"/>
<text transform="translate(150.61,248.70) rotate(-90) scale(1.235,1)" font-size="6.8" text-anchor="end" fill="#1a1a1a" stroke="#1a1a1a" stroke-width="0.12">2004</text>
<path d="M156.08 242.10V245.10" stroke="#111" stroke-width="1" fill="none"/>
<text transform="translate(158.43,248.70) rotate(-90) scale(1.235,1)" font-size="6.8" text-anchor="end" fill="#1a1a1a" stroke="#1a1a1a" stroke-width="0.12">2005</text>
<path d="M163.90 242.10V245.10" stroke="#111" stroke-width="1" fill="none"/>
<text transform="translate(166.25,248.70) rotate(-90) scale(1.235,1)" font-size="6.8" text-anchor="end" fill="#1a1a1a" stroke="#1a1a1a" stroke-width="0.12">2006</text>
<path d="M171.72 242.10V245.10" stroke="#111" stroke-width="1" fill="none"/>
<text transform="translate(174.07,248.70) rotate(-90) scale(1.235,1)" font-size="6.8" text-anchor="end" fill="#1a1a1a" stroke="#1a1a1a" stroke-width="0.12">2007</text>
<path d="M179.54 242.10V245.10" stroke="#111" stroke-width="1" fill="none"/>
<text transform="translate(181.89,248.70) rotate(-90) scale(1.235,1)" font-size="6.8" text-anchor="end" fill="#1a1a1a" stroke="#1a1a1a" stroke-width="0.12">2008</text>
<path d="M187.36 242.10V245.10" stroke="#111" stroke-width="1" fill="none"/>
<text transform="translate(189.71,248.70) rotate(-90) scale(1.235,1)" font-size="6.8" text-anchor="end" fill="#1a1a1a" stroke="#1a1a1a" stroke-width="0.12">2009</text>
<path d="M195.18 242.10V245.10" stroke="#111" stroke-width="1" fill="none"/>
<text transform="translate(197.53,248.70) rotate(-90) scale(1.235,1)" font-size="6.8" text-anchor="end" fill="#1a1a1a" stroke="#1a1a1a" stroke-width="0.12">2010</text>
<path d="M203.00 242.10V245.10" stroke="#111" stroke-width="1" fill="none"/>
<text transform="translate(205.35,248.70) rotate(-90) scale(1.235,1)" font-size="6.8" text-anchor="end" fill="#1a1a1a" stroke="#1a1a1a" stroke-width="0.12">2011</text>
<path d="M210.82 242.10V245.10" stroke="#111" stroke-width="1" fill="none"/>
<text transform="translate(213.17,248.70) rotate(-90) scale(1.235,1)" font-size="6.8" text-anchor="end" fill="#1a1a1a" stroke="#1a1a1a" stroke-width="0.12">2012</text>
<path d="M218.64 242.10V245.10" stroke="#111" stroke-width="1" fill="none"/>
<text transform="translate(220.99,248.70) rotate(-90) scale(1.235,1)" font-size="6.8" text-anchor="end" fill="#1a1a1a" stroke="#1a1a1a" stroke-width="0.12">2013</text>
<path d="M226.46 242.10V245.10" stroke="#111" stroke-width="1" fill="none"/>
<text transform="translate(228.81,248.70) rotate(-90) scale(1.235,1)" font-size="6.8" text-anchor="end" fill="#1a1a1a" stroke="#1a1a1a" stroke-width="0.12">2014</text>
<text transform="translate(175.63,278.90) scale(0.7,1.16)" font-size="9" text-anchor="middle" fill="#1a1a1a" stroke="#1a1a1a" stroke-width="0.3">Year</text>
<text transform="translate(98.20,204.10) rotate(-90) scale(0.75,1)" font-size="8.6" text-anchor="middle" fill="#1a1a1a" stroke="#1a1a1a" stroke-width="0.3">Rate</text>
<path d="M124.80 236.62V241.20M123.20 236.62H126.40M123.20 241.20H126.40" stroke="#1c2626" stroke-width="1.15" fill="none"/>
<path d="M132.62 236.03V240.61M131.02 236.03H134.22M131.02 240.61H134.22" stroke="#1c2626" stroke-width="1.15" fill="none"/>
<path d="M140.44 234.40V238.98M138.84 234.40H142.04M138.84 238.98H142.04" stroke="#1c2626" stroke-width="1.15" fill="none"/>
<path d="M148.26 236.03V240.61M146.66 236.03H149.86M146.66 240.61H149.86" stroke="#1c2626" stroke-width="1.15" fill="none"/>
<path d="M156.08 233.96V238.54M154.48 233.96H157.68M154.48 238.54H157.68" stroke="#1c2626" stroke-width="1.15" fill="none"/>
<path d="M163.90 231.74V236.32M162.30 231.74H165.50M162.30 236.32H165.50" stroke="#1c2626" stroke-width="1.15" fill="none"/>
<path d="M171.72 230.41V234.99M170.12 230.41H173.32M170.12 234.99H173.32" stroke="#1c2626" stroke-width="1.15" fill="none"/>
<path d="M179.54 230.41V234.99M177.94 230.41H181.14M177.94 234.99H181.14" stroke="#1c2626" stroke-width="1.15" fill="none"/>
<path d="M187.36 230.41V234.99M185.76 230.41H188.96M185.76 234.99H188.96" stroke="#1c2626" stroke-width="1.15" fill="none"/>
<path d="M195.18 229.82V234.66M193.58 229.82H196.78M193.58 234.66H196.78" stroke="#1c2626" stroke-width="1.15" fill="none"/>
<path d="M203.00 230.85V235.97M201.40 230.85H204.60M201.40 235.97H204.60" stroke="#1c2626" stroke-width="1.15" fill="none"/>
<path d="M210.82 228.34V233.72M209.22 228.34H212.42M209.22 233.72H212.42" stroke="#1c2626" stroke-width="1.15" fill="none"/>
<path d="M218.64 225.52V230.91M217.04 225.52H220.24M217.04 230.91H220.24" stroke="#1c2626" stroke-width="1.15" fill="none"/>
<path d="M226.46 228.63V234.02M224.86 228.63H228.06M224.86 234.02H228.06" stroke="#1c2626" stroke-width="1.15" fill="none"/>
<path d="M124.80 225.08V238.01M123.20 225.08H126.40M123.20 238.01H126.40" stroke="#1c2626" stroke-width="1.15" fill="none"/>
<path d="M132.62 223.30V237.58M131.02 223.30H134.22M131.02 237.58H134.22" stroke="#1c2626" stroke-width="1.15" fill="none"/>
<path d="M140.44 216.35V230.89M138.84 216.35H142.04M138.84 230.89H142.04" stroke="#1c2626" stroke-width="1.15" fill="none"/>
<path d="M148.26 226.86V236.55M146.66 226.86H149.86M146.66 236.55H149.86" stroke="#1c2626" stroke-width="1.15" fill="none"/>
<path d="M156.08 219.46V231.58M154.48 219.46H157.68M154.48 231.58H157.68" stroke="#1c2626" stroke-width="1.15" fill="none"/>
<path d="M163.90 216.79V227.30M162.30 216.79H165.50M162.30 227.30H165.50" stroke="#1c2626" stroke-width="1.15" fill="none"/>
<path d="M171.72 214.72V225.76M170.12 214.72H173.32M170.12 225.76H173.32" stroke="#1c2626" stroke-width="1.15" fill="none"/>
<path d="M179.54 216.79V227.30M177.94 216.79H181.14M177.94 227.30H181.14" stroke="#1c2626" stroke-width="1.15" fill="none"/>
<path d="M187.36 215.61V225.04M185.76 215.61H188.96M185.76 225.04H188.96" stroke="#1c2626" stroke-width="1.15" fill="none"/>
<path d="M195.18 202.88V218.77M193.58 202.88H196.78M193.58 218.77H196.78" stroke="#1c2626" stroke-width="1.15" fill="none"/>
<path d="M203.00 209.84V222.50M201.40 209.84H204.60M201.40 222.50H204.60" stroke="#1c2626" stroke-width="1.15" fill="none"/>
<path d="M210.82 206.28V218.94M209.22 206.28H212.42M209.22 218.94H212.42" stroke="#1c2626" stroke-width="1.15" fill="none"/>
<path d="M218.64 199.33V214.41M217.04 199.33H220.24M217.04 214.41H220.24" stroke="#1c2626" stroke-width="1.15" fill="none"/>
<path d="M226.46 206.28V220.56M224.86 206.28H228.06M224.86 220.56H228.06" stroke="#1c2626" stroke-width="1.15" fill="none"/>
<polyline points="124.80,239.14 132.62,238.55 140.44,236.92 148.26,238.55 156.08,236.48 163.90,234.26 171.72,232.92 179.54,232.92 187.36,232.92 195.18,232.48 203.00,233.66 210.82,231.30 218.64,228.48 226.46,231.59" stroke="#233c66" stroke-width="1.4" fill="none"/>
<circle cx="124.80" cy="239.14" r="1.5" fill="#fff" stroke="#233c66" stroke-width="0.9"/>
<circle cx="132.62" cy="238.55" r="1.5" fill="#fff" stroke="#233c66" stroke-width="0.9"/>
<circle cx="140.44" cy="236.92" r="1.5" fill="#fff" stroke="#233c66" stroke-width="0.9"/>
<circle cx="148.26" cy="238.55" r="1.5" fill="#fff" stroke="#233c66" stroke-width="0.9"/>
<circle cx="156.08" cy="236.48" r="1.5" fill="#fff" stroke="#233c66" stroke-width="0.9"/>
<circle cx="163.90" cy="234.26" r="1.5" fill="#fff" stroke="#233c66" stroke-width="0.9"/>
<circle cx="171.72" cy="232.92" r="1.5" fill="#fff" stroke="#233c66" stroke-width="0.9"/>
<circle cx="179.54" cy="232.92" r="1.5" fill="#fff" stroke="#233c66" stroke-width="0.9"/>
<circle cx="187.36" cy="232.92" r="1.5" fill="#fff" stroke="#233c66" stroke-width="0.9"/>
<circle cx="195.18" cy="232.48" r="1.5" fill="#fff" stroke="#233c66" stroke-width="0.9"/>
<circle cx="203.00" cy="233.66" r="1.5" fill="#fff" stroke="#233c66" stroke-width="0.9"/>
<circle cx="210.82" cy="231.30" r="1.5" fill="#fff" stroke="#233c66" stroke-width="0.9"/>
<circle cx="218.64" cy="228.48" r="1.5" fill="#fff" stroke="#233c66" stroke-width="0.9"/>
<circle cx="226.46" cy="231.59" r="1.5" fill="#fff" stroke="#233c66" stroke-width="0.9"/>
<polyline points="124.80,232.18 132.62,231.15 140.44,224.34 148.26,232.18 156.08,226.12 163.90,222.56 171.72,220.79 179.54,222.56 187.36,220.79 195.18,211.61 203.00,216.79 210.82,213.24 218.64,207.62 226.46,214.13" stroke="#8c1035" stroke-width="1.7" fill="none"/>
<circle cx="124.80" cy="232.18" r="1.5" fill="#8c1035"/>
<circle cx="132.62" cy="231.15" r="1.5" fill="#8c1035"/>
<circle cx="140.44" cy="224.34" r="1.5" fill="#8c1035"/>
<circle cx="148.26" cy="232.18" r="1.5" fill="#8c1035"/>
<circle cx="156.08" cy="226.12" r="1.5" fill="#8c1035"/>
<circle cx="163.90" cy="222.56" r="1.5" fill="#8c1035"/>
<circle cx="171.72" cy="220.79" r="1.5" fill="#8c1035"/>
<circle cx="179.54" cy="222.56" r="1.5" fill="#8c1035"/>
<circle cx="187.36" cy="220.79" r="1.5" fill="#8c1035"/>
<circle cx="195.18" cy="211.61" r="1.5" fill="#8c1035"/>
<circle cx="203.00" cy="216.79" r="1.5" fill="#8c1035"/>
<circle cx="210.82" cy="213.24" r="1.5" fill="#8c1035"/>
<circle cx="218.64" cy="207.62" r="1.5" fill="#8c1035"/>
<circle cx="226.46" cy="214.13" r="1.5" fill="#8c1035"/>
<path d="M141.90 168.10H150.40" stroke="#8c1035" stroke-width="1.6"/>
<circle cx="146.10" cy="168.10" r="1.8" fill="#8c1035"/>
<text x="154.60" y="170.60" font-size="7.35" fill="#1a1a1a">PE per 100 VTE</text>
<path d="M141.90 175.30H150.40" stroke="#233c66" stroke-width="1.3"/>
<circle cx="146.10" cy="175.30" r="1.7" fill="#fff" stroke="#233c66" stroke-width="1"/>
<text x="154.60" y="177.80" font-size="7.35" fill="#1a1a1a">PE per 10,000 Discharges</text>
<text x="230.00" y="215.70" font-size="6.7" fill="#1a1a1a">p&lt;0.001</text>
<text x="230.00" y="234.60" font-size="6.7" fill="#1a1a1a">p&lt;0.001</text>
</g>
<g>
<text x="298.80" y="156.80" font-size="8.6" font-weight="bold" fill="#000">Age Group:  13 y to 18 y</text>
<path d="M291.30 166.40V242.10" stroke="#000" stroke-width="1.4" fill="none"/>
<path d="M288.30 242.10H291.30" stroke="#111" stroke-width="1" fill="none"/>
<text transform="translate(285.20,245.30) scale(1.15,1)" font-size="7.4" text-anchor="end" fill="#1a1a1a">0</text>
<path d="M288.30 227.30H291.30" stroke="#111" stroke-width="1" fill="none"/>
<text transform="translate(285.20,230.50) scale(1.15,1)" font-size="7.4" text-anchor="end" fill="#1a1a1a">10</text>
<path d="M288.30 212.50H291.30" stroke="#111" stroke-width="1" fill="none"/>
<text transform="translate(285.20,215.70) scale(1.15,1)" font-size="7.4" text-anchor="end" fill="#1a1a1a">20</text>
<path d="M288.30 197.70H291.30" stroke="#111" stroke-width="1" fill="none"/>
<text transform="translate(285.20,200.90) scale(1.15,1)" font-size="7.4" text-anchor="end" fill="#1a1a1a">30</text>
<path d="M288.30 182.90H291.30" stroke="#111" stroke-width="1" fill="none"/>
<text transform="translate(285.20,186.10) scale(1.15,1)" font-size="7.4" text-anchor="end" fill="#1a1a1a">40</text>
<path d="M288.30 168.10H291.30" stroke="#111" stroke-width="1" fill="none"/>
<text transform="translate(285.20,171.30) scale(1.15,1)" font-size="7.4" text-anchor="end" fill="#1a1a1a">50</text>
<path d="M288.30 242.10H404.06" stroke="#000" stroke-width="1.4" fill="none"/>
<path d="M296.60 242.10V245.10" stroke="#111" stroke-width="1" fill="none"/>
<text transform="translate(298.95,248.70) rotate(-90) scale(1.235,1)" font-size="6.8" text-anchor="end" fill="#1a1a1a" stroke="#1a1a1a" stroke-width="0.12">2001</text>
<path d="M304.42 242.10V245.10" stroke="#111" stroke-width="1" fill="none"/>
<text transform="translate(306.77,248.70) rotate(-90) scale(1.235,1)" font-size="6.8" text-anchor="end" fill="#1a1a1a" stroke="#1a1a1a" stroke-width="0.12">2002</text>
<path d="M312.24 242.10V245.10" stroke="#111" stroke-width="1" fill="none"/>
<text transform="translate(314.59,248.70) rotate(-90) scale(1.235,1)" font-size="6.8" text-anchor="end" fill="#1a1a1a" stroke="#1a1a1a" stroke-width="0.12">2003</text>
<path d="M320.06 242.10V245.10" stroke="#111" stroke-width="1" fill="none"/>
<text transform="translate(322.41,248.70) rotate(-90) scale(1.235,1)" font-size="6.8" text-anchor="end" fill="#1a1a1a" stroke="#1a1a1a" stroke-width="0.12">2004</text>
<path d="M327.88 242.10V245.10" stroke="#111" stroke-width="1" fill="none"/>
<text transform="translate(330.23,248.70) rotate(-90) scale(1.235,1)" font-size="6.8" text-anchor="end" fill="#1a1a1a" stroke="#1a1a1a" stroke-width="0.12">2005</text>
<path d="M335.70 242.10V245.10" stroke="#111" stroke-width="1" fill="none"/>
<text transform="translate(338.05,248.70) rotate(-90) scale(1.235,1)" font-size="6.8" text-anchor="end" fill="#1a1a1a" stroke="#1a1a1a" stroke-width="0.12">2006</text>
<path d="M343.52 242.10V245.10" stroke="#111" stroke-width="1" fill="none"/>
<text transform="translate(345.87,248.70) rotate(-90) scale(1.235,1)" font-size="6.8" text-anchor="end" fill="#1a1a1a" stroke="#1a1a1a" stroke-width="0.12">2007</text>
<path d="M351.34 242.10V245.10" stroke="#111" stroke-width="1" fill="none"/>
<text transform="translate(353.69,248.70) rotate(-90) scale(1.235,1)" font-size="6.8" text-anchor="end" fill="#1a1a1a" stroke="#1a1a1a" stroke-width="0.12">2008</text>
<path d="M359.16 242.10V245.10" stroke="#111" stroke-width="1" fill="none"/>
<text transform="translate(361.51,248.70) rotate(-90) scale(1.235,1)" font-size="6.8" text-anchor="end" fill="#1a1a1a" stroke="#1a1a1a" stroke-width="0.12">2009</text>
<path d="M366.98 242.10V245.10" stroke="#111" stroke-width="1" fill="none"/>
<text transform="translate(369.33,248.70) rotate(-90) scale(1.235,1)" font-size="6.8" text-anchor="end" fill="#1a1a1a" stroke="#1a1a1a" stroke-width="0.12">2010</text>
<path d="M374.80 242.10V245.10" stroke="#111" stroke-width="1" fill="none"/>
<text transform="translate(377.15,248.70) rotate(-90) scale(1.235,1)" font-size="6.8" text-anchor="end" fill="#1a1a1a" stroke="#1a1a1a" stroke-width="0.12">2011</text>
<path d="M382.62 242.10V245.10" stroke="#111" stroke-width="1" fill="none"/>
<text transform="translate(384.97,248.70) rotate(-90) scale(1.235,1)" font-size="6.8" text-anchor="end" fill="#1a1a1a" stroke="#1a1a1a" stroke-width="0.12">2012</text>
<path d="M390.44 242.10V245.10" stroke="#111" stroke-width="1" fill="none"/>
<text transform="translate(392.79,248.70) rotate(-90) scale(1.235,1)" font-size="6.8" text-anchor="end" fill="#1a1a1a" stroke="#1a1a1a" stroke-width="0.12">2013</text>
<path d="M398.26 242.10V245.10" stroke="#111" stroke-width="1" fill="none"/>
<text transform="translate(400.61,248.70) rotate(-90) scale(1.235,1)" font-size="6.8" text-anchor="end" fill="#1a1a1a" stroke="#1a1a1a" stroke-width="0.12">2014</text>
<text transform="translate(347.43,278.90) scale(0.7,1.16)" font-size="9" text-anchor="middle" fill="#1a1a1a" stroke="#1a1a1a" stroke-width="0.3">Year</text>
<text transform="translate(270.00,204.10) rotate(-90) scale(0.75,1)" font-size="8.6" text-anchor="middle" fill="#1a1a1a" stroke="#1a1a1a" stroke-width="0.3">Rate</text>
<path d="M296.60 223.16V230.43M295.00 223.16H298.20M295.00 230.43H298.20" stroke="#1c2626" stroke-width="1.15" fill="none"/>
<path d="M304.42 224.19V231.20M302.82 224.19H306.02M302.82 231.20H306.02" stroke="#1c2626" stroke-width="1.15" fill="none"/>
<path d="M312.24 216.79V226.22M310.64 216.79H313.84M310.64 226.22H313.84" stroke="#1c2626" stroke-width="1.15" fill="none"/>
<path d="M320.06 216.79V226.22M318.46 216.79H321.66M318.46 226.22H321.66" stroke="#1c2626" stroke-width="1.15" fill="none"/>
<path d="M327.88 217.68V227.11M326.28 217.68H329.48M326.28 227.11H329.48" stroke="#1c2626" stroke-width="1.15" fill="none"/>
<path d="M335.70 211.32V220.74M334.10 211.32H337.30M334.10 220.74H337.30" stroke="#1c2626" stroke-width="1.15" fill="none"/>
<path d="M343.52 211.32V220.74M341.92 211.32H345.12M341.92 220.74H345.12" stroke="#1c2626" stroke-width="1.15" fill="none"/>
<path d="M351.34 207.32V216.75M349.74 207.32H352.94M349.74 216.75H352.94" stroke="#1c2626" stroke-width="1.15" fill="none"/>
<path d="M359.16 210.28V219.71M357.56 210.28H360.76M357.56 219.71H360.76" stroke="#1c2626" stroke-width="1.15" fill="none"/>
<path d="M366.98 204.21V216.60M365.38 204.21H368.58M365.38 216.60H368.58" stroke="#1c2626" stroke-width="1.15" fill="none"/>
<path d="M374.80 200.81V214.55M373.20 200.81H376.40M373.20 214.55H376.40" stroke="#1c2626" stroke-width="1.15" fill="none"/>
<path d="M382.62 202.44V214.56M381.02 202.44H384.22M381.02 214.56H384.22" stroke="#1c2626" stroke-width="1.15" fill="none"/>
<path d="M390.44 199.03V211.96M388.84 199.03H392.04M388.84 211.96H392.04" stroke="#1c2626" stroke-width="1.15" fill="none"/>
<path d="M398.26 198.00V210.39M396.66 198.00H399.86M396.66 210.39H399.86" stroke="#1c2626" stroke-width="1.15" fill="none"/>
<path d="M296.60 207.17V221.72M295.00 207.17H298.20M295.00 221.72H298.20" stroke="#1c2626" stroke-width="1.15" fill="none"/>
<path d="M304.42 210.72V223.11M302.82 210.72H306.02M302.82 223.11H306.02" stroke="#1c2626" stroke-width="1.15" fill="none"/>
<path d="M312.24 205.84V218.77M310.64 205.84H313.84M310.64 218.77H313.84" stroke="#1c2626" stroke-width="1.15" fill="none"/>
<path d="M320.06 208.06V220.18M318.46 208.06H321.66M318.46 220.18H321.66" stroke="#1c2626" stroke-width="1.15" fill="none"/>
<path d="M327.88 207.76V219.62M326.28 207.76H329.48M326.28 219.62H329.48" stroke="#1c2626" stroke-width="1.15" fill="none"/>
<path d="M335.70 202.44V212.67M334.10 202.44H337.30M334.10 212.67H337.30" stroke="#1c2626" stroke-width="1.15" fill="none"/>
<path d="M343.52 204.66V215.70M341.92 204.66H345.12M341.92 215.70H345.12" stroke="#1c2626" stroke-width="1.15" fill="none"/>
<path d="M351.34 200.36V211.41M349.74 200.36H352.94M349.74 211.41H352.94" stroke="#1c2626" stroke-width="1.15" fill="none"/>
<path d="M359.16 202.44V213.21M357.56 202.44H360.76M357.56 213.21H360.76" stroke="#1c2626" stroke-width="1.15" fill="none"/>
<path d="M366.98 183.34V198.97M365.38 183.34H368.58M365.38 198.97H368.58" stroke="#1c2626" stroke-width="1.15" fill="none"/>
<path d="M374.80 183.79V198.87M373.20 183.79H376.40M373.20 198.87H376.40" stroke="#1c2626" stroke-width="1.15" fill="none"/>
<path d="M382.62 182.75V198.64M381.02 182.75H384.22M381.02 198.64H384.22" stroke="#1c2626" stroke-width="1.15" fill="none"/>
<path d="M390.44 179.35V194.43M388.84 179.35H392.04M388.84 194.43H392.04" stroke="#1c2626" stroke-width="1.15" fill="none"/>
<path d="M398.26 182.46V197.00M396.66 182.46H399.86M396.66 197.00H399.86" stroke="#1c2626" stroke-width="1.15" fill="none"/>
<polyline points="296.60,227.15 304.42,228.04 312.24,221.97 320.06,221.97 327.88,222.86 335.70,216.50 343.52,216.50 351.34,212.50 359.16,215.46 366.98,211.02 374.80,208.36 382.62,209.10 390.44,206.14 398.26,204.80" stroke="#233c66" stroke-width="1.4" fill="none"/>
<circle cx="296.60" cy="227.15" r="1.5" fill="#fff" stroke="#233c66" stroke-width="0.9"/>
<circle cx="304.42" cy="228.04" r="1.5" fill="#fff" stroke="#233c66" stroke-width="0.9"/>
<circle cx="312.24" cy="221.97" r="1.5" fill="#fff" stroke="#233c66" stroke-width="0.9"/>
<circle cx="320.06" cy="221.97" r="1.5" fill="#fff" stroke="#233c66" stroke-width="0.9"/>
<circle cx="327.88" cy="222.86" r="1.5" fill="#fff" stroke="#233c66" stroke-width="0.9"/>
<circle cx="335.70" cy="216.50" r="1.5" fill="#fff" stroke="#233c66" stroke-width="0.9"/>
<circle cx="343.52" cy="216.50" r="1.5" fill="#fff" stroke="#233c66" stroke-width="0.9"/>
<circle cx="351.34" cy="212.50" r="1.5" fill="#fff" stroke="#233c66" stroke-width="0.9"/>
<circle cx="359.16" cy="215.46" r="1.5" fill="#fff" stroke="#233c66" stroke-width="0.9"/>
<circle cx="366.98" cy="211.02" r="1.5" fill="#fff" stroke="#233c66" stroke-width="0.9"/>
<circle cx="374.80" cy="208.36" r="1.5" fill="#fff" stroke="#233c66" stroke-width="0.9"/>
<circle cx="382.62" cy="209.10" r="1.5" fill="#fff" stroke="#233c66" stroke-width="0.9"/>
<circle cx="390.44" cy="206.14" r="1.5" fill="#fff" stroke="#233c66" stroke-width="0.9"/>
<circle cx="398.26" cy="204.80" r="1.5" fill="#fff" stroke="#233c66" stroke-width="0.9"/>
<polyline points="296.60,215.16 304.42,217.53 312.24,212.94 320.06,214.72 327.88,214.28 335.70,208.06 343.52,210.72 351.34,206.43 359.16,208.36 366.98,191.93 374.80,192.08 382.62,191.48 390.44,187.64 398.26,190.45" stroke="#8c1035" stroke-width="1.7" fill="none"/>
<circle cx="296.60" cy="215.16" r="1.5" fill="#8c1035"/>
<circle cx="304.42" cy="217.53" r="1.5" fill="#8c1035"/>
<circle cx="312.24" cy="212.94" r="1.5" fill="#8c1035"/>
<circle cx="320.06" cy="214.72" r="1.5" fill="#8c1035"/>
<circle cx="327.88" cy="214.28" r="1.5" fill="#8c1035"/>
<circle cx="335.70" cy="208.06" r="1.5" fill="#8c1035"/>
<circle cx="343.52" cy="210.72" r="1.5" fill="#8c1035"/>
<circle cx="351.34" cy="206.43" r="1.5" fill="#8c1035"/>
<circle cx="359.16" cy="208.36" r="1.5" fill="#8c1035"/>
<circle cx="366.98" cy="191.93" r="1.5" fill="#8c1035"/>
<circle cx="374.80" cy="192.08" r="1.5" fill="#8c1035"/>
<circle cx="382.62" cy="191.48" r="1.5" fill="#8c1035"/>
<circle cx="390.44" cy="187.64" r="1.5" fill="#8c1035"/>
<circle cx="398.26" cy="190.45" r="1.5" fill="#8c1035"/>
<path d="M333.90 229.50H342.40" stroke="#8c1035" stroke-width="1.6"/>
<circle cx="338.10" cy="229.50" r="1.8" fill="#8c1035"/>
<text x="345.70" y="232.00" font-size="7.35" fill="#1a1a1a">PE per 100 VTE</text>
<path d="M333.90 236.90H342.40" stroke="#233c66" stroke-width="1.3"/>
<circle cx="338.10" cy="236.90" r="1.7" fill="#fff" stroke="#233c66" stroke-width="1"/>
<text x="345.70" y="239.40" font-size="7.35" fill="#1a1a1a">PE per 10,000 Discharges</text>
<text x="406.20" y="192.20" font-size="6.7" fill="#1a1a1a">p&lt;0.001</text>
<text x="406.50" y="207.50" font-size="6.7" fill="#1a1a1a">p&lt;0.001</text>
</g>
</g>
<path d="M0 0H520V287H0Z M1.1 1.1V285.7H518.9V1.1Z" fill="#000" fill-rule="evenodd"/>
</svg>
</body></html>
